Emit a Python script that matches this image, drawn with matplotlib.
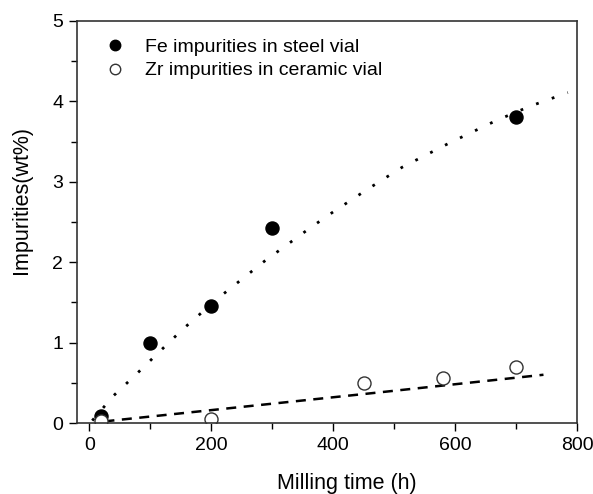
import numpy as np
import matplotlib
matplotlib.use("Agg")
import matplotlib.pyplot as plt
from matplotlib.ticker import MultipleLocator

plt.rcParams['font.family'] = ['Liberation Sans', 'DejaVu Sans']

# measured points
fe_time = [20, 100, 200, 300, 700]
fe_wt = [0.09, 1.00, 1.45, 2.43, 3.81]
zr_time = [20, 200, 450, 580, 700]
zr_wt = [0.02, 0.05, 0.50, 0.56, 0.70]

# guide curves
fe_fit_time = [5, 40, 79, 117, 154, 211, 249, 287, 325, 363, 401, 457, 513, 590, 667, 723, 785]
fe_fit_wt = [0.03, 0.34, 0.62, 0.90, 1.17, 1.55, 1.78, 2.01, 2.22, 2.43, 2.63, 2.91, 3.18, 3.48, 3.76, 3.94, 4.11]
zr_fit_time = [25, 200, 450, 745]
zr_fit_wt = [0.02, 0.16, 0.36, 0.60]

fig = plt.figure(figsize=(5.93, 4.94), dpi=100)
ax = fig.add_axes([77 / 593, 71 / 494, 500 / 593, 402 / 494])

ax.plot(fe_fit_time, fe_fit_wt, color='black', lw=2.0, linestyle=(0, (1, 5)))
ax.plot(zr_fit_time, zr_fit_wt, color='black', lw=1.8, linestyle=(0, (4, 3)))

ax.plot(fe_time, fe_wt, 'o', color='black', markersize=9.4,
        label='Fe impurities in steel vial')
ax.plot(zr_time, zr_wt, 'o', markerfacecolor='white', markeredgecolor='#333333',
        markeredgewidth=1.0, markersize=9.4, label='Zr impurities in ceramic vial')

ax.set_xlim(-20, 800)
ax.set_ylim(0, 5)
ax.xaxis.set_major_locator(MultipleLocator(200))
ax.xaxis.set_minor_locator(MultipleLocator(100))
ax.yaxis.set_major_locator(MultipleLocator(1))
ax.yaxis.set_minor_locator(MultipleLocator(0.5))
ax.tick_params(which='major', direction='out', length=6, width=1.0, labelsize=14, pad=4)
ax.tick_params(which='minor', direction='out', length=4, width=1.0)

for s in ax.spines.values():
    s.set_linewidth(1.2)
    s.set_color('#333333')

ax.set_xlabel('Milling time (h)', fontsize=15.5)
ax.xaxis.set_label_coords(0.54, -0.125)
ax.set_ylabel('Impurities(wt%)', fontsize=15.5)
ax.yaxis.set_label_coords(-0.09, 0.555)

ax.legend(loc='upper left', bbox_to_anchor=(0.057, 0.957), frameon=False, fontsize=14,
          markerscale=0.8, handlelength=1.0, handletextpad=1.05, labelspacing=0.3,
          borderaxespad=0, borderpad=0)

fig.savefig('out.png', dpi=100)
